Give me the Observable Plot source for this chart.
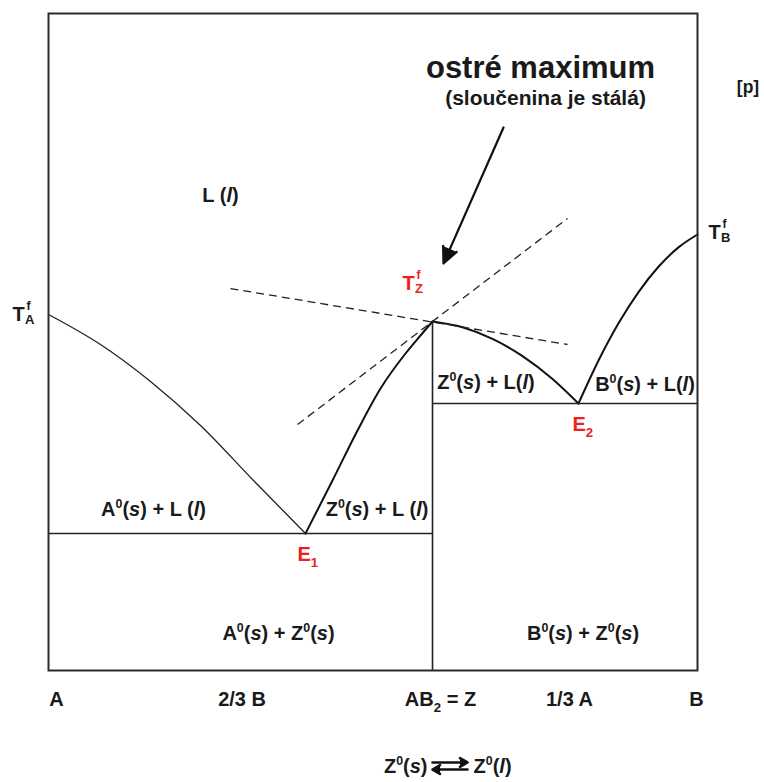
<!DOCTYPE html>
<html><head><meta charset="utf-8">
<script src="https://cdn.jsdelivr.net/npm/d3@7"></script>
<script src="https://cdn.jsdelivr.net/npm/@observablehq/plot@0.6"></script>
<style>
html,body{margin:0;padding:0;background:#fff;}
#chart svg{display:block;}
</style></head><body><div id="chart"></div>
<script>
// composition x: 0 = A, 1 = B ; temperature T: relative scale 0–100
const liquidusA = [
  {x:0, T:54.19},{x:0.0801, T:49.62},{x:0.1572, T:43.99},{x:0.2342, T:37.29},{x:0.3159, T:28.92},{x:0.3960, T:20.85}
];
const liquidusZleft = [
  {x:0.3960, T:20.85},{x:0.4376, T:28.92},{x:0.4746, T:36.23},{x:0.5116, T:42.92},{x:0.5501, T:48.25},{x:0.5732, T:50.99},{x:0.5917, T:53.12}
];
const liquidusZright = [
  {x:0.5917, T:53.12},{x:0.6379, T:52.24},{x:0.6841, T:50.47},{x:0.7304, T:47.86},{x:0.7766, T:44.37},{x:0.8166, T:40.64}
];
const liquidusB = [
  {x:0.8166, T:40.64},{x:0.8475, T:47.19},{x:0.8783, T:52.85},{x:0.9091, T:57.60},{x:0.9399, T:61.45},{x:0.9707, T:64.40},{x:1, T:66.36}
];
const eutectics = [{x1:0, x2:0.5917, T:20.85},{x1:0.5917, x2:1, T:40.64}];
const compound = [{x:0.5917, T:53.12}];
const tangents = [
  {x1:0.2804, T1:58.14, x2:0.7997, T2:49.62},
  {x1:0.3837, T1:37.44, x2:0.7997, T2:68.80}
];
const pointer = [{x1:0.7011, T1:82.65, x2:0.6086, T2:61.95}];

const regionText = ["L (*l*)", "Z^{0}(*s*) + L(*l*)", "B^{0}(*s*) + L(*l*)", "A^{0}(*s*) + L (*l*)", "Z^{0}(*s*) + L (*l*)", "A^{0}(*s*) + Z^{0}(*s*)", "B^{0}(*s*) + Z^{0}(*s*)"];
const regionX = [0.265, 0.6741, 0.9191, 0.1618, 0.5062, 0.3544, 0.8236];
const regionT = [72.3, 43.84, 43.53, 24.51, 24.51, 5.63, 5.63];

const eutText = ["E_{1}", "E_{2}"];
const eutX = [0.3837, 0.8074];
const eutT = [17.58, 37.44];

const meltSub = ["A", "B", "Z"];
const meltX = [-0.0555, 1.017, 0.5455];
const meltT = [54.11, 66.59, 58.83];
const meltColor = ["#1a1a1a", "#1a1a1a", "#ee2020"];

const tickLabels = ["A", "2/3 B", "AB_{2} = Z", "1/3 A", "B"];
const tickX = [0.0123, 0.2983, 0.6040, 0.8028, 0.9985];
const tickT = -4.41;

const noteText = ["ostré maximum", "(sloučenina je stálá)", "[p]"];
const noteX = [0.7581, 0.7658, 1.0778];
const noteT = [91.63, 87.06, 88.74];
const noteSize = [31, 21, 17.5];

const eqLeft = "Z^{0}(*s*)", eqRight = "Z^{0}(*l*)";
const eqX = [0.584, 0.6549];
const eqT = -14.61;
const eqArrows = [
  {x1:0.5917, x2:0.6456, T:-14.0},
  {x1:0.6456, x2:0.5917, T:-15.07}
];

const idx = a => a.map((_, i) => i);
const red = "#ee2020", ink = "#1a1a1a";

const plot = Plot.plot({
  width: 764, height: 782,
  marginLeft: 48, marginRight: 67, marginTop: 13, marginBottom: 112,
  x: {domain: [0, 1], axis: null},
  y: {domain: [0, 100], axis: null},
  style: {fontFamily: "'Liberation Sans', Arial, sans-serif", color: ink, background: "#fff"},
  marks: [
    Plot.line(liquidusA, {x: "x", y: "T", curve: "monotone-x", stroke: "#222", strokeWidth: 1.3}),
    Plot.line(liquidusZleft, {x: "x", y: "T", curve: "monotone-x", stroke: "#111", strokeWidth: 2}),
    Plot.line(liquidusZright, {x: "x", y: "T", curve: "monotone-x", stroke: "#111", strokeWidth: 2}),
    Plot.line(liquidusB, {x: "x", y: "T", curve: "monotone-x", stroke: "#111", strokeWidth: 2}),
    Plot.ruleY(eutectics, {y: "T", x1: "x1", x2: "x2", stroke: "#222", strokeWidth: 1.6}),
    Plot.ruleX(compound, {x: "x", y1: 0, y2: "T", stroke: "#222", strokeWidth: 1.6}),
    Plot.link(tangents, {x1: "x1", y1: "T1", x2: "x2", y2: "T2", stroke: "#222", strokeWidth: 1.3, strokeDasharray: "8,5"}),
    Plot.arrow(pointer, {x1: "x1", y1: "T1", x2: "x2", y2: "T2", stroke: "#111", fill: "#111", strokeWidth: 2.2, headLength: 12, headAngle: 50}),
    Plot.frame({stroke: "#2b2b2b", strokeWidth: 2}),
    Plot.text(idx(regionText), {x: i => regionX[i], y: i => regionT[i], text: i => regionText[i], fontSize: 20, fontWeight: "bold", fill: ink}),
    Plot.text(idx(eutText), {x: i => eutX[i], y: i => eutT[i], text: i => eutText[i], fontSize: 20, fontWeight: "bold", fill: red, textAnchor: "start"}),
    Plot.text(idx(meltSub), {x: i => meltX[i], y: i => meltT[i], text: () => "T", fontSize: 20, fontWeight: "bold", fill: i => meltColor[i], textAnchor: "start"}),
    Plot.text(idx(meltSub), {x: i => meltX[i], y: i => meltT[i], text: () => "f", fontSize: 12, fontWeight: "bold", fill: i => meltColor[i], textAnchor: "start", dx: 14, dy: -9}),
    Plot.text(idx(meltSub), {x: i => meltX[i], y: i => meltT[i], text: i => meltSub[i], fontSize: 13, fontWeight: "bold", fill: i => meltColor[i], textAnchor: "start", dx: 12.5, dy: 5}),
    Plot.text(idx(tickLabels), {x: i => tickX[i], y: () => tickT, text: i => tickLabels[i], fontSize: 20, fontWeight: "bold", fill: ink}),
    Plot.text(idx(noteText), {x: i => noteX[i], y: i => noteT[i], text: i => noteText[i], fontSize: i => noteSize[i], fontWeight: "bold", fill: ink}),
    Plot.text([0], {x: () => eqX[0], y: () => eqT, text: () => eqLeft, fontSize: 20, fontWeight: "bold", fill: ink, textAnchor: "end"}),
    Plot.text([0], {x: () => eqX[1], y: () => eqT, text: () => eqRight, fontSize: 20, fontWeight: "bold", fill: ink, textAnchor: "start"}),
    Plot.arrow(eqArrows, {x1: "x1", y1: "T", x2: "x2", y2: "T", stroke: "#111", fill: "#111", strokeWidth: 2.6, headLength: 5, headAngle: 60})
  ]
});
document.getElementById("chart").appendChild(plot);

// rich text: ^{..} superscript, _{..} subscript, *..* italic
const NS = "http://www.w3.org/2000/svg";
plot.querySelectorAll("text").forEach(t => {
  const s = t.textContent;
  if (!/[\^_*]/.test(s)) return;
  t.textContent = "";
  const re = /\^\{([^}]*)\}|_\{([^}]*)\}|\*([^*]+)\*|([^\^_*]+)/g;
  let m, off = 0;
  while ((m = re.exec(s))) {
    const ts = document.createElementNS(NS, "tspan");
    let scale = 1, target = 0;
    if (m[1] !== undefined) { ts.textContent = m[1]; scale = 0.62; target = -0.4; }
    else if (m[2] !== undefined) { ts.textContent = m[2]; scale = 0.66; target = 0.3; }
    else if (m[3] !== undefined) { ts.textContent = m[3]; ts.setAttribute("font-style", "italic"); }
    else ts.textContent = m[4];
    if (scale !== 1) ts.setAttribute("font-size", scale + "em");
    const d = target - off;
    if (d !== 0) ts.setAttribute("dy", (d / scale).toFixed(3) + "em");
    off = target;
    t.appendChild(ts);
  }
});
</script>
</body></html>
